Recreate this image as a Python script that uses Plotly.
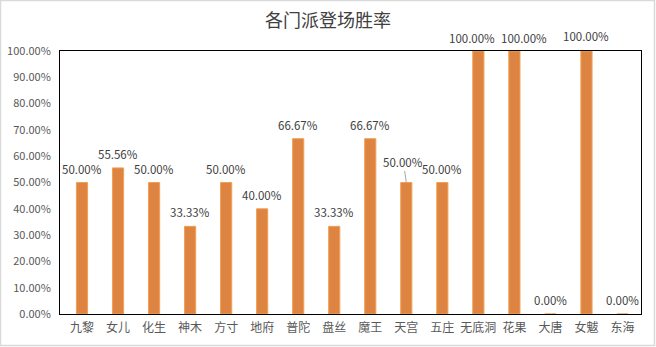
import plotly.graph_objects as go

# 门派与登场胜率（百分比）
sects = ["九黎", "女儿", "化生", "神木", "方寸", "地府", "普陀", "盘丝",
         "魔王", "天宫", "五庄", "无底洞", "花果", "大唐", "女魃", "东海"]
win_rates = [50.00, 55.56, 50.00, 33.33, 50.00, 40.00, 66.67, 33.33,
             66.67, 50.00, 50.00, 100.00, 100.00, 0.00, 100.00, 0.00]
y_ticks = [i / 10 for i in range(11)]

W, H = 656, 347
ML, MR, MT, MB = 60, 15, 51, 33
FONT = "Noto Sans CJK SC, Microsoft YaHei, sans-serif"
BAR_FILL = "#DD8442"
BAR_EDGE = "#F2A053"

fig = go.Figure(go.Bar(
    x=sects,
    y=[v / 100 for v in win_rates],
    marker=dict(color=BAR_FILL, line=dict(color=BAR_EDGE, width=1)),
    hovertemplate="%{x}: %{y:.2%}<extra></extra>",
))

# hand-moved labels: (x shift, y shift) in pixels, optional leader line
label_moves = {
    "天宫": (-3, -21, True),
    "无底洞": (-6, -13, False),
    "花果": (10, -13, False),
    "女魃": (0, -15, False),
}

annotations = []
for name, v in zip(sects, win_rates):
    dx, dy, leader = label_moves.get(name, (0, -14, False))
    common = dict(x=name, y=v / 100, text=f"{v:.2f}%",
                  font=dict(family=FONT, size=11.5, color="#404040"))
    if leader:
        annotations.append(dict(**common, showarrow=True, ax=dx, ay=dy,
                                arrowhead=0, arrowwidth=1, arrowcolor="#A6A6A6",
                                standoff=0, startstandoff=0))
    else:
        annotations.append(dict(**common, showarrow=False, xshift=dx, yshift=-dy,
                                xanchor="center", yanchor="middle"))

pw, ph = W - ML - MR, H - MT - MB
fig.update_layout(
    width=W, height=H,
    margin=dict(l=ML, r=MR, t=MT, b=MB),
    paper_bgcolor="white", plot_bgcolor="white",
    bargap=0.69,
    showlegend=False,
    title=dict(text="各门派登场胜率", x=0.5, xanchor="center", y=1 - 21 / H, yanchor="middle",
               font=dict(family=FONT, size=18, color="#404040")),
    font=dict(family=FONT, color="#595959"),
    xaxis=dict(showline=True, linecolor="black", linewidth=1, mirror=True,
               showgrid=False, ticks="", automargin=False, ticklabelstandoff=3,
               tickfont=dict(size=12, color="#595959")),
    yaxis=dict(range=[0, 1], tickvals=y_ticks, tickformat=".2%",
               showline=True, linecolor="black", linewidth=1, mirror=True,
               showgrid=False, zeroline=False, ticks="", ticklabelstandoff=6,
               automargin=False, tickfont=dict(size=11, color="#595959")),
    annotations=annotations,
    shapes=[dict(type="rect", xref="paper", yref="paper",
                 x0=-ML / pw + 0.5 / pw, x1=1 + MR / pw - 1.5 / pw,
                 y0=-MB / ph + 1.5 / ph, y1=1 + MT / ph - 0.5 / ph,
                 line=dict(color="#D9D9D9", width=1.5), layer="below")],
)

fig.write_html("out.html")
